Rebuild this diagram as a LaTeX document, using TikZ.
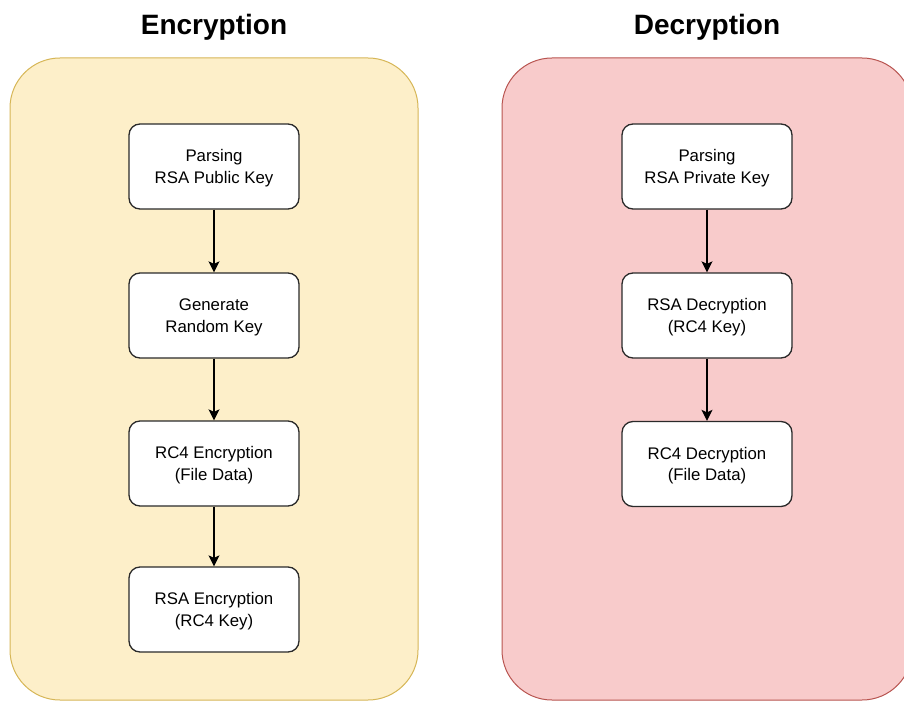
\documentclass[tikz,border=0pt]{standalone}
\usepackage{fontspec}
\setmainfont{Liberation Sans}
\usetikzlibrary{arrows.meta}
\definecolor{encfill}{HTML}{FDEFC9}
\definecolor{encdraw}{HTML}{D6B656}
\definecolor{decfill}{HTML}{F8CBCB}
\definecolor{decdraw}{HTML}{B85450}
\definecolor{boxdraw}{HTML}{2A2A2A}
\begin{document}
\begin{tikzpicture}[x=1pt,y=-1pt,
  panel/.style={rounded corners=50pt, line width=1pt},
  stepbox/.style={draw=boxdraw, fill=white, line width=1.3pt, rounded corners=11pt,
    minimum width=170pt, minimum height=85pt, align=center, inner sep=0pt,
    text depth=0pt, font=\fontsize{16.8}{21.5}\selectfont},
  title/.style={font=\fontsize{28}{32}\selectfont\bfseries},
  flow/.style={-{Stealth[length=11pt,width=11pt,inset=2.5pt]}, line width=1.3pt, draw=black}]
\useasboundingbox (0,0) rectangle (904,703);
\clip (0,0) rectangle (904,703);
% panels
\draw[panel, fill=encfill, draw=encdraw] (10,58) rectangle (418,700);
\draw[panel, fill=decfill, draw=decdraw] (502,58) rectangle (912,700);
% titles
\node[title] (tenc) at (214,27) {Encryption};
\node[title] (tdec) at (707,27) {Decryption};
% encryption steps
\node[stepbox] (e1) at (214,166.5) {Parsing\\RSA Public Key};
\node[stepbox] (e2) at (214,315.5) {Generate\\Random Key};
\node[stepbox] (e3) at (214,463.5) {RC4 Encryption\\(File Data)};
\node[stepbox] (e4) at (214,609.5) {RSA Encryption\\(RC4 Key)};
% decryption steps
\node[stepbox] (d1) at (707,166.5) {Parsing\\RSA Private Key};
\node[stepbox] (d2) at (707,315.5) {RSA Decryption\\(RC4 Key)};
\node[stepbox] (d3) at (707,464) {RC4 Decryption\\(File Data)};
% connectors
\draw[flow] (e1) -- (e2);
\draw[flow] (e2) -- (e3);
\draw[flow] (e3) -- (e4);
\draw[flow] (d1) -- (d2);
\draw[flow] (d2) -- (d3);
\end{tikzpicture}
\end{document}
